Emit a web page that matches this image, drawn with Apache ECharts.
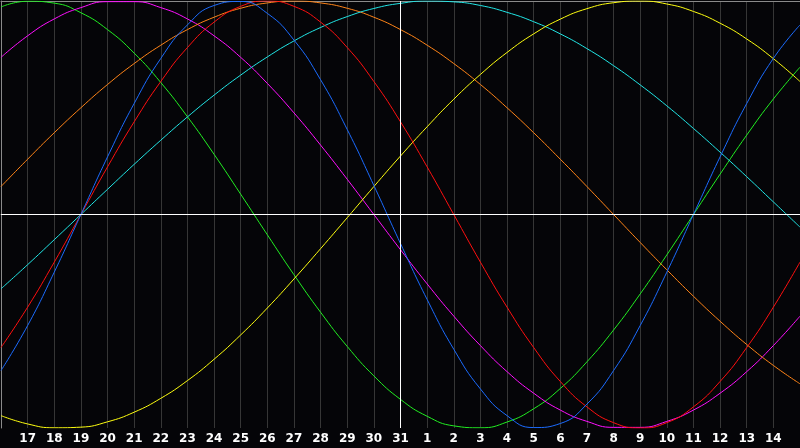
<!DOCTYPE html>
<html>
<head>
<meta charset="utf-8">
<script src="https://cdn.jsdelivr.net/npm/echarts@6/dist/echarts.min.js"></script>
<style>
html,body{margin:0;padding:0;background:#050508;}
#chart{width:800px;height:448px;}
</style>
</head>
<body>
<div id="chart"></div>
<script>
// Day-of-month categories (16 Dec .. 15 Jan), edges unlabeled
var dayLabels = ['16','17','18','19','20','21','22','23','24','25','26','27','28','29','30','31',
                 '1','2','3','4','5','6','7','8','9','10','11','12','13','14','15'];

// Curve values (percent, -100..100) read at each day
var greenVals = [97.2,99.9,99.0,94.5,86.6,75.6,61.8,45.8,28.2,9.5,-9.5,-28.2,-45.8,-61.8,-75.6,-86.6,
                 -94.5,-99.0,-99.9,-97.2,-91.0,-81.5,-69.0,-54.1,-37.2,-18.9,0,18.9,37.2,54.1,69.0];
var magentaVals = [73.6,83.7,91.6,96.9,99.7,99.7,96.9,91.6,83.7,73.6,61.4,47.6,32.5,16.5,0,-16.5,
                   -32.5,-47.6,-61.4,-73.6,-83.7,-91.6,-96.9,-99.7,-99.7,-96.9,-91.6,-83.7,-73.6,-61.4,-47.6];
var blueVals = [-73.1,-52.0,-27.0,0,27.0,52.0,73.1,88.8,97.9,99.8,94.2,81.7,63.1,39.8,13.6,-13.6,
                -39.8,-63.1,-81.7,-94.2,-99.8,-97.9,-88.8,-73.1,-52.0,-27.0,0,27.0,52.0,73.1,88.8];
var redVals = [-62.3,-43.4,-22.3,0,22.3,43.4,62.3,78.2,90.1,97.5,100,97.5,90.1,78.2,62.3,43.4,
               22.3,0,-22.3,-43.4,-62.3,-78.2,-90.1,-97.5,-100,-97.5,-90.1,-78.2,-62.3,-43.4,-22.3];
var orangeVals = [13.1,25.9,38.3,50.0,60.9,70.7,79.3,86.6,92.4,96.6,99.1,100,99.1,96.6,92.4,86.6,
                  79.3,70.7,60.9,50.0,38.3,25.9,13.1,0,-13.1,-25.9,-38.3,-50.0,-60.9,-70.7,-79.3];
var cyanVals = [-34.8,-23.5,-11.8,0,11.8,23.5,34.8,45.7,55.9,65.3,73.8,81.3,87.6,92.7,96.5,98.9,
                100,99.6,97.9,94.7,90.3,84.6,77.7,69.7,60.7,50.9,40.3,29.2,17.7,5.9,-5.9];
var yellowVals = [-94.2,-98.1,-99.9,-99.6,-97.1,-92.6,-86.1,-77.8,-67.8,-56.4,-43.8,-30.2,-16.0,-1.5,13.1,27.4,
                  41.1,54.0,65.6,75.9,84.6,91.5,96.4,99.2,100,98.6,95.1,89.6,82.2,73.0,62.3];

var curves = [
  {name:'green', data:greenVals, color:'#22ee22'},
  {name:'magenta', data:magentaVals, color:'#ff10ff'},
  {name:'orange', data:orangeVals, color:'#ff8418'},
  {name:'cyan', data:cyanVals, color:'#22e6e6'},
  {name:'yellow', data:yellowVals, color:'#ffff10'},
  {name:'red', data:redVals, color:'#ff1010'},
  {name:'blue', data:blueVals, color:'#1c6cff'}
];

var series = curves.map(function(c){
  return {
    name:c.name, type:'line', data:c.data, smooth:true, symbol:'none',
    lineStyle:{color:c.color, width:1}, silent:true, animation:false
  };
});
series.push({
  type:'line', data:[], silent:true, animation:false,
  markLine:{
    silent:true, symbol:'none', label:{show:false},
    lineStyle:{color:'#ffffff', width:1, type:'solid'},
    data:[{yAxis:0},{xAxis:'31'}]
  }
});

var chart = echarts.init(document.getElementById('chart'), null, {renderer:'canvas'});
chart.setOption({
  backgroundColor:'#050508',
  animation:false,
  grid:{left:1, right:0, top:1, bottom:20, show:false},
  xAxis:[{
    type:'category', data:dayLabels, boundaryGap:false,
    axisLine:{show:true, lineStyle:{color:'#8a8a8a', width:1}},
    axisTick:{show:false},
    axisLabel:{
      color:'#ffffff', fontWeight:'bold', fontSize:12, fontFamily:'DejaVu Sans', margin:5,
      interval:function(i){ return i>0 && i<dayLabels.length-1; }
    },
    splitLine:{show:true, interval:0, lineStyle:{color:'#363636', width:1}}
  },{
    type:'category', data:dayLabels, boundaryGap:false, position:'top',
    axisLine:{show:true, lineStyle:{color:'#8a8a8a', width:1}},
    axisTick:{show:false}, axisLabel:{show:false}, splitLine:{show:false}
  }],
  yAxis:{
    type:'value', min:-100, max:100, interval:100,
    axisLine:{show:true, lineStyle:{color:'#8a8a8a'}},
    axisTick:{show:false}, axisLabel:{show:false}, splitLine:{show:false}
  },
  series:series
});
</script>
</body>
</html>
